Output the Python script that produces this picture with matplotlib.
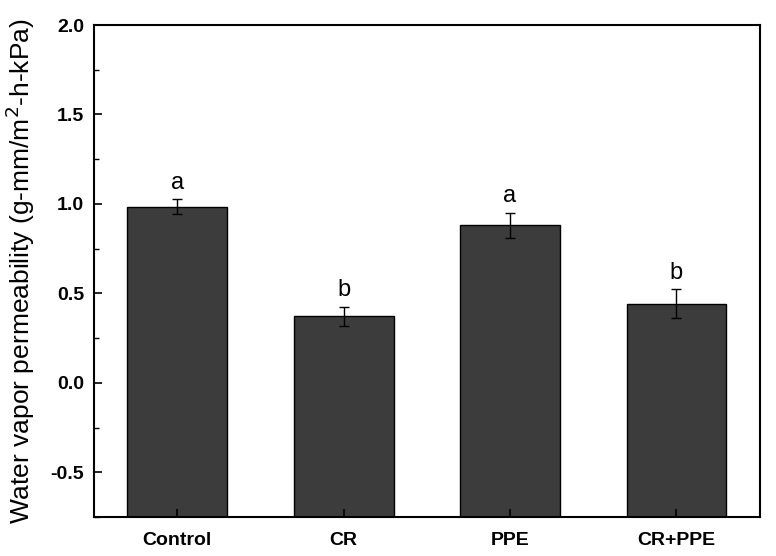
import matplotlib
matplotlib.use("Agg")
import matplotlib.pyplot as plt
from matplotlib.ticker import MultipleLocator

categories = ["Control", "CR", "PPE", "CR+PPE"]
values = [0.985, 0.372, 0.881, 0.443]
errors = [0.042, 0.054, 0.071, 0.080]
letters = ["a", "b", "a", "b"]

plt.rcParams['font.family'] = ['Liberation Sans', 'DejaVu Sans']

YMIN, YMAX = -0.75, 2.0

fig = plt.figure(figsize=(7.76, 5.56), dpi=100)
ax = fig.add_axes([0.121, 0.070, 0.858, 0.885])

x = list(range(1, len(categories) + 1))
heights = [v - YMIN for v in values]
ax.bar(x, heights, bottom=YMIN, width=0.6, color="#3c3c3c", edgecolor="black", linewidth=1.0)
ax.errorbar(x, values, yerr=errors, fmt="none", ecolor="black", elinewidth=1.0,
            capsize=3.5, capthick=1.0)

for xi, v, e, t in zip(x, values, errors, letters):
    ax.text(xi, v + e + 0.03, t, ha="center", va="bottom", fontsize=17)

ax.set_xlim(0.5, 4.5)
ax.set_ylim(YMIN, YMAX)
ax.set_xticks(x)
ax.set_xticklabels(categories, fontsize=14, fontweight="bold")
ax.yaxis.set_minor_locator(MultipleLocator(0.25))
ax.set_yticks([-0.5, 0.0, 0.5, 1.0, 1.5, 2.0])
ax.set_yticklabels(["-0.5", "0.0", "0.5", "1.0", "1.5", "2.0"], fontsize=14, fontweight="bold")
ax.tick_params(axis="both", which="major", direction="in", length=6, width=1.2)
ax.tick_params(axis="y", which="major", pad=7)
ax.tick_params(axis="x", which="major", pad=11)
ax.tick_params(axis="y", which="minor", direction="in", length=3.5, width=1.0)
ax.tick_params(axis="x", which="minor", bottom=False)
for s in ax.spines.values():
    s.set_linewidth(1.5)

ax.set_ylabel("Water vapor permeability (g-mm/m$^2$-h-kPa)", fontsize=19, labelpad=10)

fig.savefig("out.png", dpi=100)
